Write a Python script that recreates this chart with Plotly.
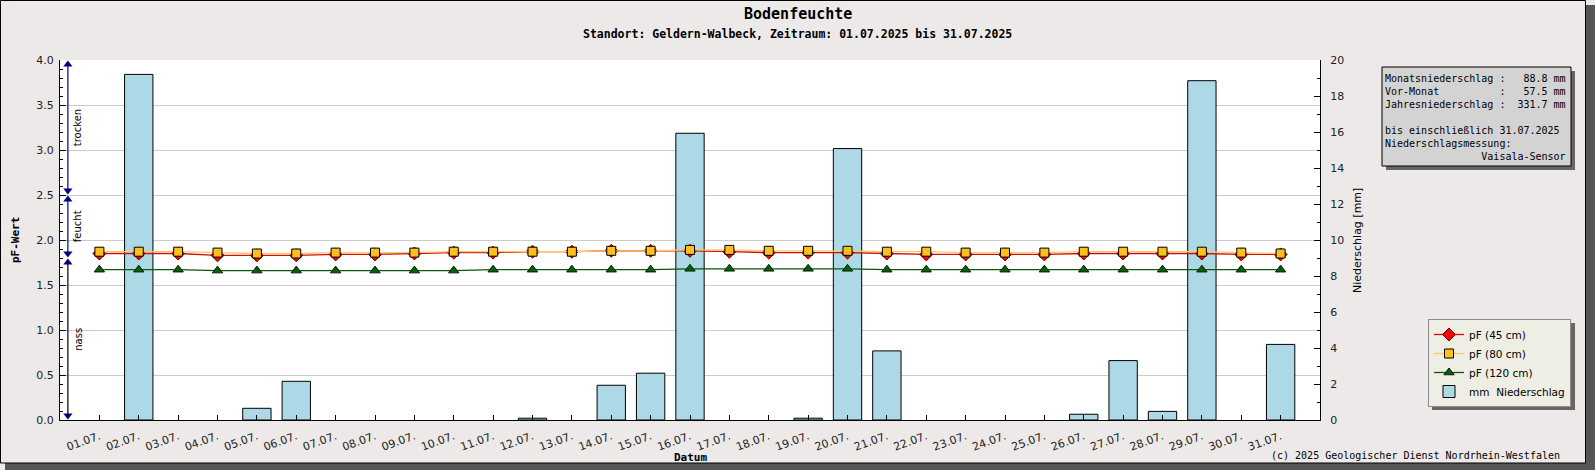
import plotly.graph_objects as go

# Daten Bodenfeuchte Geldern-Walbeck, Juli 2025
days = [1, 2, 3, 4, 5, 6, 7, 8, 9, 10, 11, 12, 13, 14, 15, 16,
        17, 18, 19, 20, 21, 22, 23, 24, 25, 26, 27, 28, 29, 30, 31]
dayLabels = ["01.07.", "02.07.", "03.07.", "04.07.", "05.07.", "06.07.", "07.07.", "08.07.",
             "09.07.", "10.07.", "11.07.", "12.07.", "13.07.", "14.07.", "15.07.", "16.07.",
             "17.07.", "18.07.", "19.07.", "20.07.", "21.07.", "22.07.", "23.07.", "24.07.",
             "25.07.", "26.07.", "27.07.", "28.07.", "29.07.", "30.07.", "31.07."]

precipMm = [0.0, 19.2, 0.0, 0.0, 0.65, 2.15, 0.0, 0.0, 0.0, 0.0, 0.0, 0.1, 0.0, 1.93, 2.6, 15.93,
            0.0, 0.0, 0.1, 15.08, 3.84, 0.0, 0.0, 0.0, 0.0, 0.32, 3.3, 0.48, 18.85, 0.0, 4.2]

pf45 = [1.85, 1.85, 1.85, 1.83, 1.83, 1.83, 1.84, 1.84, 1.85, 1.86, 1.86, 1.87, 1.87, 1.88, 1.88, 1.88,
        1.87, 1.86, 1.86, 1.86, 1.85, 1.84, 1.84, 1.84, 1.84, 1.85, 1.85, 1.85, 1.85, 1.84, 1.84]
pf80 = [1.87, 1.87, 1.87, 1.86, 1.85, 1.85, 1.86, 1.86, 1.86, 1.87, 1.87, 1.87, 1.87, 1.88, 1.88, 1.89,
        1.89, 1.88, 1.88, 1.88, 1.87, 1.87, 1.86, 1.86, 1.86, 1.87, 1.87, 1.87, 1.87, 1.86, 1.85]
pf120 = [1.67, 1.67, 1.67, 1.66, 1.66, 1.66, 1.66, 1.66, 1.66, 1.66, 1.67, 1.67, 1.67, 1.67, 1.67, 1.68,
         1.68, 1.68, 1.68, 1.68, 1.67, 1.67, 1.67, 1.67, 1.67, 1.67, 1.67, 1.67, 1.67, 1.67, 1.67]

# Bodenzustand (pF-Bereiche)
zoneNames = ["trocken", "feucht", "nass"]
zoneTop = [4.0, 2.5, 1.8]
zoneBottom = [2.5, 1.8, 0.0]

infoLines = [
    "Monatsniederschlag :   88.8 mm",
    "Vor-Monat          :   57.5 mm",
    "Jahresniederschlag :  331.7 mm",
    "",
    "bis einschließlich 31.07.2025",
    "Niederschlagsmessung:",
    "                Vaisala-Sensor",
]

# Pixel-Rahmen des Diagramms
W, H = 1595, 470
L, R, T, B = 60, 1320, 60, 420
MONO = "DejaVu Sans Mono"
SANS = "DejaVu Sans"


def px(x):  # pixel -> paper x
    return (x - L) / (R - L)


def py(y):  # pixel -> paper y
    return (B - y) / (B - T)


fig = go.Figure()

fig.add_trace(go.Scatter(x=days, y=pf45, name="pF (45 cm)", yaxis="y2", mode="lines+markers",
                         line=dict(color="#cc1010", width=1.3),
                         marker=dict(symbol="diamond", size=10, color="#ff0000",
                                     line=dict(color="#660000", width=1))))
fig.add_trace(go.Scatter(x=days, y=pf80, name="pF (80 cm)", yaxis="y2", mode="lines+markers",
                         line=dict(color="#ffc860", width=1.3),
                         marker=dict(symbol="square", size=9, color="#ffbf1f",
                                     line=dict(color="black", width=1))))
fig.add_trace(go.Scatter(x=days, y=pf120, name="pF (120 cm)", yaxis="y2", mode="lines+markers",
                         line=dict(color="#0a5a0a", width=1.3),
                         marker=dict(symbol="triangle-up", size=9, color="#0b5d0b",
                                     line=dict(color="#002200", width=1))))
# Tage ohne Niederschlag werden nicht gezeichnet
barValues = [v if v > 0 else None for v in precipMm]
fig.add_trace(go.Bar(x=days, y=barValues, name="mm  Niederschlag", yaxis="y", width=0.72,
                     marker=dict(color="#add8e6", line=dict(color="black", width=1))))

# Pfeile fuer trocken / feucht / nass
inset = 0.05
arrowX = 0.2
arrowLineColors = ["navy", "navy", "black"]
headX, headY, headSym = [], [], []
shapes = []
annotations = []
for i, name in enumerate(zoneNames):
    top = zoneTop[i] - inset
    bot = zoneBottom[i] + inset
    shapes.append(dict(type="line", xref="x", yref="y2", x0=arrowX, x1=arrowX, y0=bot, y1=top,
                       line=dict(color=arrowLineColors[i], width=1.2), layer="above"))
    headX += [arrowX, arrowX]
    headY += [top, bot]
    headSym += ["triangle-up", "triangle-down"]
    annotations.append(dict(xref="x", yref="y2", x=0.45, y=(zoneTop[i] + zoneBottom[i]) / 2,
                            xanchor="center", yanchor="middle",
                            text=name, textangle=-90, showarrow=False,
                            font=dict(family=SANS, size=10, color="black")))
fig.add_trace(go.Scatter(x=headX, y=headY, yaxis="y2", mode="markers", showlegend=False,
                         hoverinfo="skip", cliponaxis=False,
                         marker=dict(symbol=headSym, size=8, color="navy")))

# Rahmen und Schatten der Seite
shapes.append(dict(type="rect", xref="paper", yref="paper", x0=px(5), x1=px(W), y0=py(463), y1=py(H),
                   fillcolor="#555555", line=dict(width=0), layer="below"))
shapes.append(dict(type="rect", xref="paper", yref="paper", x0=px(1586), x1=px(W), y0=py(5), y1=py(H),
                   fillcolor="#555555", line=dict(width=0), layer="below"))
shapes.append(dict(type="rect", xref="paper", yref="paper", x0=px(0.5), x1=px(1585.5), y0=py(0.5), y1=py(463),
                   fillcolor="rgba(0,0,0,0)", line=dict(color="black", width=1), layer="below"))

# Infobox oben rechts
shapes.append(dict(type="rect", xref="paper", yref="paper", x0=px(1386), x1=px(1575), y0=py(71), y1=py(170),
                   fillcolor="#666666", line=dict(width=0), layer="above"))
shapes.append(dict(type="rect", xref="paper", yref="paper", x0=px(1382), x1=px(1571), y0=py(67), y1=py(166),
                   fillcolor="#d3d3d3", line=dict(color="black", width=1), layer="above"))
# Schatten Legende
shapes.append(dict(type="rect", xref="paper", yref="paper", x0=px(1432), x1=px(1575), y0=py(323), y1=py(410),
                   fillcolor="#666666", line=dict(width=0), layer="above"))

infoText = "<br>".join((s if s else " ").replace(" ", "\u00a0") for s in infoLines)
annotations.append(dict(xref="paper", yref="paper", x=px(1383), y=py(71), xanchor="left", yanchor="top",
                        align="left", text=infoText, showarrow=False,
                        font=dict(family=MONO, size=10, color="black")))

# Titel und Beschriftungen
annotations.append(dict(xref="paper", yref="paper", x=px(W / 2), y=py(14), xanchor="center", yanchor="middle",
                        text="<b>Bodenfeuchte</b>",
                        showarrow=False, font=dict(family=MONO, size=15, color="black")))
annotations.append(dict(xref="paper", yref="paper", x=px(W / 2), y=py(34), xanchor="center", yanchor="middle",
                        text="<b>Standort: Geldern-Walbeck, Zeitraum: 01.07.2025 bis 31.07.2025</b>",
                        showarrow=False, font=dict(family=MONO, size=11.5, color="black")))
annotations.append(dict(xref="paper", yref="paper", x=0.5, y=py(457), xanchor="center", yanchor="middle",
                        text="<b>Datum</b>",
                        showarrow=False, font=dict(family=MONO, size=11, color="black")))
annotations.append(dict(xref="paper", yref="paper", x=px(15), y=py(240), xanchor="center", yanchor="middle",
                        text="<b>pF-Wert</b>", textangle=-90,
                        showarrow=False, font=dict(family=MONO, size=11, color="black")))
annotations.append(dict(xref="paper", yref="paper", x=px(1357), y=py(240), xanchor="center", yanchor="middle",
                        text="Niederschlag [mm]", textangle=-90,
                        showarrow=False, font=dict(family=SANS, size=11, color="black")))
annotations.append(dict(xref="paper", yref="paper", x=px(1562), y=py(455), xanchor="right", yanchor="middle",
                        text="(c) 2025 Geologischer Dienst Nordrhein-Westfalen",
                        showarrow=False, font=dict(family=MONO, size=10, color="black")))

fig.update_layout(
    width=W, height=H,
    margin=dict(l=L, r=W - R, t=T, b=H - B, autoexpand=False),
    paper_bgcolor="#ece9e8", plot_bgcolor="white",
    showlegend=True,
    legend=dict(x=px(1428), y=py(319), xanchor="left", yanchor="top",
                bgcolor="#efeee4", bordercolor="#8c8c8c", borderwidth=1, itemwidth=30,
                font=dict(family=SANS, size=10.5, color="black"), tracegroupgap=0),
    xaxis=dict(range=[0, 32], tickmode="array", tickvals=days, ticktext=dayLabels, tickangle=-20,
               ticks="inside", ticklen=5, tickcolor="black", showgrid=False, zeroline=False,
               showline=True, linecolor="black", linewidth=1, ticklabelstandoff=5,
               tickfont=dict(family=SANS, size=11, color="#222222")),
    yaxis=dict(range=[0, 20], side="right", dtick=2, ticks="inside", ticklen=6, tickcolor="black",
               minor=dict(dtick=1, ticks="inside", ticklen=3, tickcolor="black"),
               showgrid=False, zeroline=False, showline=True, linecolor="black", linewidth=1,
               ticklabelstandoff=7, tickfont=dict(family=SANS, size=11, color="#222222")),
    yaxis2=dict(range=[0, 4], side="left", overlaying="y", dtick=0.5, tickformat=".1f",
                ticks="inside", ticklen=6, tickcolor="black",
                minor=dict(dtick=0.1, ticks="inside", ticklen=3, tickcolor="black"),
                showgrid=True, gridcolor="#cccccc", gridwidth=1, zeroline=False,
                showline=True, linecolor="black", linewidth=1,
                ticklabelstandoff=3, tickfont=dict(family=SANS, size=11, color="#222222")),
    bargap=0.28,
    shapes=shapes,
    annotations=annotations,
)

# Seitenrand des Browsers entfernen, damit die Grafik bei (0,0) beginnt
fig.write_html("out.html", config={"displayModeBar": False},
               post_script="document.body.style.margin='0';")
